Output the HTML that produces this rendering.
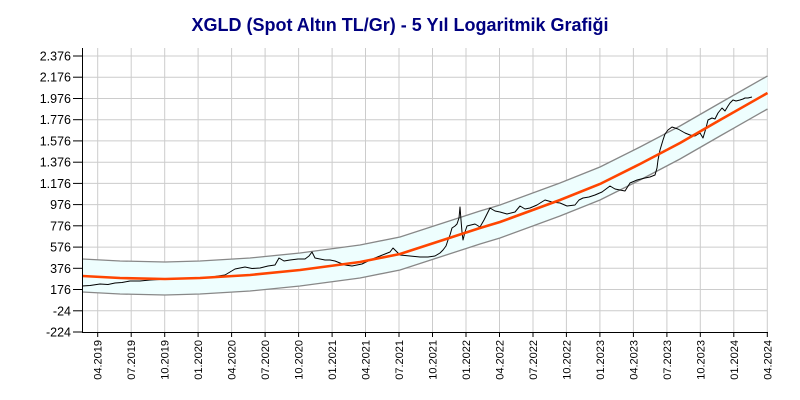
<!DOCTYPE html><html><head><meta charset="utf-8"><style>body{margin:0;background:#fff}svg{display:block}</style></head><body>
<svg width="800" height="400" xmlns="http://www.w3.org/2000/svg" font-family="Liberation Sans, Arial, sans-serif">
<text x="400" y="31" text-anchor="middle" font-size="18" font-weight="bold" fill="#000080">XGLD (Spot Altın TL/Gr) - 5 Yıl Logaritmik Grafiği</text>
<g stroke="#cccccc" stroke-width="1">
<line x1="82.5" x2="767.5" y1="56" y2="56"/><line x1="82.5" x2="767.5" y1="77.2" y2="77.2"/><line x1="82.5" x2="767.5" y1="98.5" y2="98.5"/><line x1="82.5" x2="767.5" y1="119.7" y2="119.7"/><line x1="82.5" x2="767.5" y1="140.9" y2="140.9"/><line x1="82.5" x2="767.5" y1="162.2" y2="162.2"/><line x1="82.5" x2="767.5" y1="183.4" y2="183.4"/><line x1="82.5" x2="767.5" y1="204.6" y2="204.6"/><line x1="82.5" x2="767.5" y1="225.8" y2="225.8"/><line x1="82.5" x2="767.5" y1="247.1" y2="247.1"/><line x1="82.5" x2="767.5" y1="268.3" y2="268.3"/><line x1="82.5" x2="767.5" y1="289.5" y2="289.5"/><line x1="82.5" x2="767.5" y1="310.8" y2="310.8"/>
<line x1="97.7" x2="97.7" y1="48" y2="332"/><line x1="131.2" x2="131.2" y1="48" y2="332"/><line x1="164.7" x2="164.7" y1="48" y2="332"/><line x1="198.1" x2="198.1" y1="48" y2="332"/><line x1="231.6" x2="231.6" y1="48" y2="332"/><line x1="265.1" x2="265.1" y1="48" y2="332"/><line x1="298.6" x2="298.6" y1="48" y2="332"/><line x1="332.1" x2="332.1" y1="48" y2="332"/><line x1="365.5" x2="365.5" y1="48" y2="332"/><line x1="399" x2="399" y1="48" y2="332"/><line x1="432.5" x2="432.5" y1="48" y2="332"/><line x1="466" x2="466" y1="48" y2="332"/><line x1="499.5" x2="499.5" y1="48" y2="332"/><line x1="533" x2="533" y1="48" y2="332"/><line x1="566.4" x2="566.4" y1="48" y2="332"/><line x1="599.9" x2="599.9" y1="48" y2="332"/><line x1="633.4" x2="633.4" y1="48" y2="332"/><line x1="666.9" x2="666.9" y1="48" y2="332"/><line x1="700.3" x2="700.3" y1="48" y2="332"/><line x1="733.8" x2="733.8" y1="48" y2="332"/><line x1="767.3" x2="767.3" y1="48" y2="332"/>
</g>
<polygon fill="#eefefe" points="82.5,259 120,261 165,262 200,261 250,258 300,253 360,245 400,237 440,224 480,211 500,205 560,183 600,167 640,147 680,126 720,103 767.5,76 767.5,109 720,136 680,159 640,180 600,200 560,216 500,238 480,244 440,257 400,270 360,278 300,286 250,291 200,294 165,295 120,294 82.5,292"/>
<polyline fill="none" stroke="#888" stroke-width="1.3" points="82.5,259 120,261 165,262 200,261 250,258 300,253 360,245 400,237 440,224 480,211 500,205 560,183 600,167 640,147 680,126 720,103 767.5,76"/>
<polyline fill="none" stroke="#888" stroke-width="1.3" points="82.5,292 120,294 165,295 200,294 250,291 300,286 360,278 400,270 440,257 480,244 500,238 560,216 600,200 640,180 680,159 720,136 767.5,109"/>
<polyline fill="none" stroke="#000" stroke-width="1" stroke-linejoin="round" points="82,286 90,285.5 100,284 108,284.5 115,283 122,282.5 130,281 140,281 150,280 160,279.5 175,279 188,278.5 200,278 212,277 218,276 225,275 230,272 235,269 240,268 245,267 252,268.5 260,268 268,266 275,265 279,258 284,261 290,260 298,259 305,259 309,256 312,252 315,258 320,259 325,260 330,260 335,261 340,263 345,265 352,266 357,265 362,264 366,262 370,260 375,258 380,256 385,254 390,252 393,248 397,252 400,255 410,256 420,257 428,257 435,256 440,253 443,250 446,246 448,240 450,235 452,228 455,226 457,224 459,218 460,207 461,220 462,232 463,240 465,232 467,226 471,225 475,224 480,227 484,220 487,214 490,208 495,211 500,212 507,214 515,212 520,206 525,209 530,208 537,205 545,200 552,202 560,203 567,206 575,205 579,200 583,198 589,197 595,195 602,192 610,186 615,189 620,190 625,191 630,183 637,180 645,178 650,177 655,175 657,168 658,160 660,150 663,140 665,134 668,130 672,127 678,129 685,133 690,135 695,136 700,133 703,138 706,128 708,120 712,118 715,119 718,113 722,108 725,111 728,106 730,103 733,100 736,101 740,100 743,99 745,98 748,98 752,97"/>
<polyline fill="none" stroke="#ff4500" stroke-width="2.6" points="82.5,276 120,278 165,279 200,278 250,275 300,270 360,262 400,254 440,241 480,228 500,222 560,200 600,184 640,164 680,143 720,120 767.5,93"/>
<line x1="82.5" x2="82.5" y1="48" y2="332.5" stroke="#000"/>
<line x1="82" x2="768" y1="332.5" y2="332.5" stroke="#000"/>
<g stroke="#000">
<line x1="73" x2="82.5" y1="56" y2="56"/><line x1="73" x2="82.5" y1="77.2" y2="77.2"/><line x1="73" x2="82.5" y1="98.5" y2="98.5"/><line x1="73" x2="82.5" y1="119.7" y2="119.7"/><line x1="73" x2="82.5" y1="140.9" y2="140.9"/><line x1="73" x2="82.5" y1="162.2" y2="162.2"/><line x1="73" x2="82.5" y1="183.4" y2="183.4"/><line x1="73" x2="82.5" y1="204.6" y2="204.6"/><line x1="73" x2="82.5" y1="225.8" y2="225.8"/><line x1="73" x2="82.5" y1="247.1" y2="247.1"/><line x1="73" x2="82.5" y1="268.3" y2="268.3"/><line x1="73" x2="82.5" y1="289.5" y2="289.5"/><line x1="73" x2="82.5" y1="310.8" y2="310.8"/><line x1="73" x2="82.5" y1="332" y2="332"/>
<line x1="97.7" x2="97.7" y1="332" y2="337"/><line x1="131.2" x2="131.2" y1="332" y2="337"/><line x1="164.7" x2="164.7" y1="332" y2="337"/><line x1="198.1" x2="198.1" y1="332" y2="337"/><line x1="231.6" x2="231.6" y1="332" y2="337"/><line x1="265.1" x2="265.1" y1="332" y2="337"/><line x1="298.6" x2="298.6" y1="332" y2="337"/><line x1="332.1" x2="332.1" y1="332" y2="337"/><line x1="365.5" x2="365.5" y1="332" y2="337"/><line x1="399" x2="399" y1="332" y2="337"/><line x1="432.5" x2="432.5" y1="332" y2="337"/><line x1="466" x2="466" y1="332" y2="337"/><line x1="499.5" x2="499.5" y1="332" y2="337"/><line x1="533" x2="533" y1="332" y2="337"/><line x1="566.4" x2="566.4" y1="332" y2="337"/><line x1="599.9" x2="599.9" y1="332" y2="337"/><line x1="633.4" x2="633.4" y1="332" y2="337"/><line x1="666.9" x2="666.9" y1="332" y2="337"/><line x1="700.3" x2="700.3" y1="332" y2="337"/><line x1="733.8" x2="733.8" y1="332" y2="337"/><line x1="767.3" x2="767.3" y1="332" y2="337"/>
</g>
<g font-size="12.5" fill="#000" text-anchor="end">
<text x="71" y="60.5">2.376</text><text x="71" y="81.7">2.176</text><text x="71" y="103">1.976</text><text x="71" y="124.2">1.776</text><text x="71" y="145.4">1.576</text><text x="71" y="166.7">1.376</text><text x="71" y="187.9">1.176</text><text x="71" y="209.1">976</text><text x="71" y="230.3">776</text><text x="71" y="251.6">576</text><text x="71" y="272.8">376</text><text x="71" y="294">176</text><text x="71" y="315.3">-24</text><text x="71" y="336.5">-224</text>
</g>
<g font-size="11" fill="#000" text-anchor="end">
<text transform="translate(101.7,340) rotate(-90)">04.2019</text>
<text transform="translate(135.2,340) rotate(-90)">07.2019</text>
<text transform="translate(168.7,340) rotate(-90)">10.2019</text>
<text transform="translate(202.1,340) rotate(-90)">01.2020</text>
<text transform="translate(235.6,340) rotate(-90)">04.2020</text>
<text transform="translate(269.1,340) rotate(-90)">07.2020</text>
<text transform="translate(302.6,340) rotate(-90)">10.2020</text>
<text transform="translate(336.1,340) rotate(-90)">01.2021</text>
<text transform="translate(369.5,340) rotate(-90)">04.2021</text>
<text transform="translate(403,340) rotate(-90)">07.2021</text>
<text transform="translate(436.5,340) rotate(-90)">10.2021</text>
<text transform="translate(470,340) rotate(-90)">01.2022</text>
<text transform="translate(503.5,340) rotate(-90)">04.2022</text>
<text transform="translate(537,340) rotate(-90)">07.2022</text>
<text transform="translate(570.4,340) rotate(-90)">10.2022</text>
<text transform="translate(603.9,340) rotate(-90)">01.2023</text>
<text transform="translate(637.4,340) rotate(-90)">04.2023</text>
<text transform="translate(670.9,340) rotate(-90)">07.2023</text>
<text transform="translate(704.3,340) rotate(-90)">10.2023</text>
<text transform="translate(737.8,340) rotate(-90)">01.2024</text>
<text transform="translate(771.3,340) rotate(-90)">04.2024</text>
</g>
</svg></body></html>
